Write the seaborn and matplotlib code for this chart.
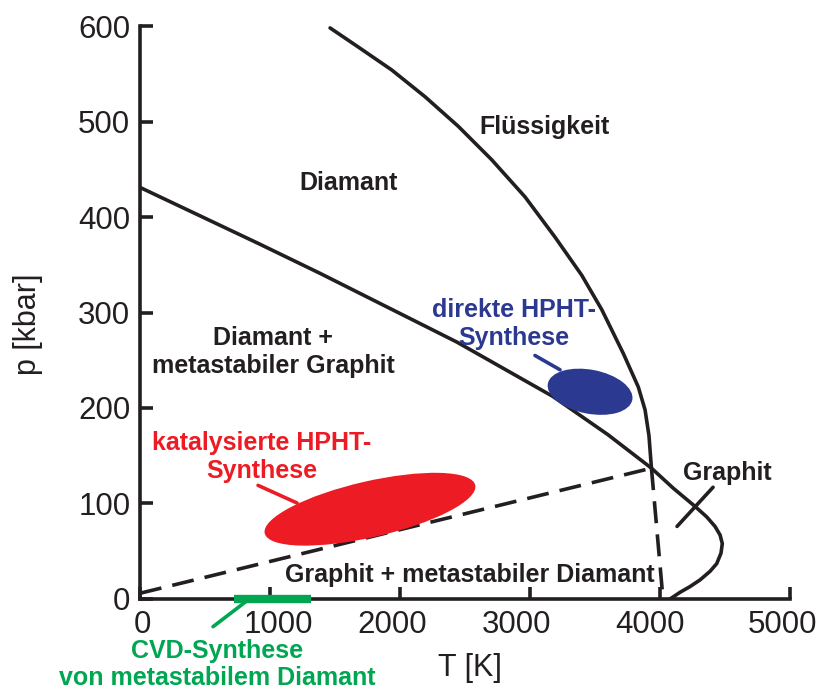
import matplotlib
matplotlib.use("Agg")
import matplotlib.pyplot as plt
import matplotlib.transforms as transforms
from matplotlib.patches import Ellipse
import seaborn as sns

sns.set_theme(style="ticks")
plt.rcParams["font.family"] = ["Liberation Sans", "DejaVu Sans"]

INK = "#231F20"
RED = "#ED1C24"
BLUE = "#2B3990"
GREEN = "#00A651"

# phase boundaries, T in K, p in kbar
diamond_graphite_T = [0, 915, 1385, 2438, 3177, 3600, 3934]
diamond_graphite_p = [431, 372, 341, 269, 212, 172, 137]

diamond_liquid_T = [1462, 1679, 1936, 2192, 2448, 2705, 2962, 3192, 3398,
                    3552, 3635, 3718, 3833, 3885, 3915, 3934]
diamond_liquid_p = [598, 578, 554, 526, 495, 460, 421, 379, 339,
                    303, 280, 257, 222, 198, 171, 137]

graphite_liquid_T = [3934, 4102, 4269, 4359, 4423, 4462, 4479, 4469, 4436, 4385, 4308, 4231, 4154, 4077]
graphite_liquid_p = [137, 116, 97, 86, 76, 67, 58, 48, 37, 29, 20, 13, 7, 0]

# metastable extensions (dashed)
meta_low_T = [0, 3934]
meta_low_p = [6, 137]
meta_steep_T = [3934, 4023]
meta_steep_p = [137, 0]

# synthesis regions: centre (T, p)
hpht_direct = (3462, 217)
hpht_catalysed = (1769, 94)
cvd_range_T = [723, 1315]

x_ticks = [0, 1000, 2000, 3000, 4000, 5000]
y_ticks = [0, 100, 200, 300, 400, 500, 600]

fig = plt.figure(figsize=(8.22, 6.9), dpi=100)
ax = fig.add_axes([0.1703, 0.1319, 0.7908, 0.8304])

lw = 2.6
dash = (0, (6.1, 3.1))
sns.lineplot(x=diamond_graphite_T, y=diamond_graphite_p, ax=ax, color=INK, lw=lw, sort=False)
sns.lineplot(x=diamond_liquid_T, y=diamond_liquid_p, ax=ax, color=INK, lw=lw, sort=False)
sns.lineplot(x=graphite_liquid_T, y=graphite_liquid_p, ax=ax, color=INK, lw=lw, sort=False)
ax.plot(meta_low_T, meta_low_p, color=INK, lw=lw, ls=dash)
ax.plot(meta_steep_T, meta_steep_p, color=INK, lw=lw, ls=dash)


def add_blob(center, w_in, h_in, angle, color):
    trans = fig.dpi_scale_trans + transforms.ScaledTranslation(center[0], center[1], ax.transData)
    ax.add_patch(Ellipse((0, 0), w_in, h_in, angle=angle, transform=trans,
                         facecolor=color, edgecolor="none", zorder=3))


add_blob(hpht_catalysed, 2.16, 0.56, 12.9, RED)
add_blob(hpht_direct, 0.86, 0.44, -11, BLUE)

# CVD bar on the T axis
ax.plot(cvd_range_T, [0, 0], color=GREEN, lw=6, solid_capstyle="butt", clip_on=False, zorder=4)

# pointer strokes
ax.plot([908, 1208], [119, 100.5], color=RED, lw=lw)
ax.plot([3038, 3231], [255, 240], color=BLUE, lw=lw)
ax.plot([562, 831], [-29, -1], color=GREEN, lw=lw, clip_on=False)
ax.plot([4131, 4408], [76, 117], color=INK, lw=lw)

bold = dict(fontsize=18, fontweight="bold", ha="center", va="center", linespacing=1.2)
ax.text(3115, 494, "Flüssigkeit", color=INK, **bold)
ax.text(1608, 436, "Diamant", color=INK, **bold)
ax.text(1023, 259, "Diamant +\nmetastabiler Graphit", color=INK, **bold)
ax.text(2877, 288, "direkte HPHT-\nSynthese", color=BLUE, **bold)
ax.text(938, 149, "katalysierte HPHT-\nSynthese", color=RED, **bold)
ax.text(4515, 132, "Graphit", color=INK, **bold)
ax.text(2538, 25, "Graphit + metastabiler Diamant", color=INK, **bold)
ax.text(592, -69, "CVD-Synthese\nvon metastabilem Diamant", color=GREEN, clip_on=False,
        **{**bold, "linespacing": 1.15})

ax.set_xlim(0, 5000)
ax.set_ylim(0, 600)
ax.set_xticks(x_ticks)
ax.set_yticks(y_ticks)
sns.despine(ax=ax)
for side in ("left", "bottom"):
    ax.spines[side].set_linewidth(lw)
    ax.spines[side].set_color(INK)
ax.tick_params(direction="in", length=9, width=lw, colors=INK, labelsize=22.5)
ax.tick_params(axis="x", pad=8)
ax.tick_params(axis="y", pad=7)

# the original's T labels sit a little off their ticks
label_shift_px = [2, 8, -8, -13, -10, -8]
for lab, dx in zip(ax.get_xticklabels(), label_shift_px):
    lab.set_transform(lab.get_transform() + transforms.ScaledTranslation(dx / 100, 0, fig.dpi_scale_trans))

ax.set_xlabel("T [K]", fontsize=22, color=INK)
ax.set_ylabel("p [kbar]", fontsize=22, color=INK)
ax.xaxis.set_label_coords(0.508, -0.094)
ax.yaxis.set_label_coords(-0.149, 0.48)

fig.savefig("out.png", dpi=100)
